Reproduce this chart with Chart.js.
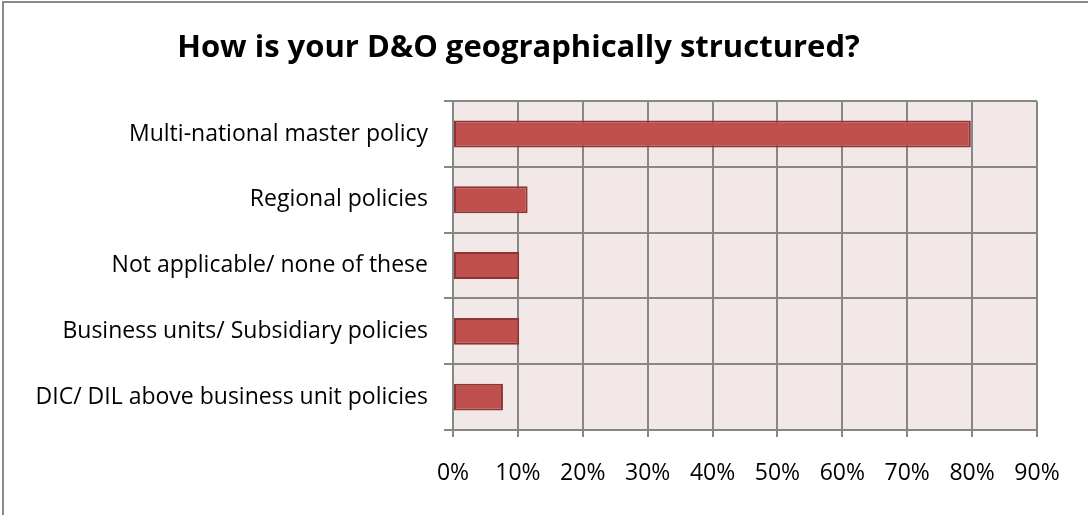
<!DOCTYPE html>
<html>
<head>
<meta charset="utf-8">
<script src="https://cdn.jsdelivr.net/npm/chart.js@4/dist/chart.umd.min.js"></script>
<style>
  html, body { margin: 0; padding: 0; background: #fff; }
  #wrap { position: relative; width: 1088px; height: 515px; }
  #frame { position: absolute; left: 2px; top: 1px; right: 0; bottom: 0;
           border-left: 2px solid #8a8a8a; border-top: 2px solid #8a8a8a; pointer-events: none; }
</style>
</head>
<body>
<div id="wrap">
  <canvas id="chart" width="1088" height="515"></canvas>
  <div id="frame"></div>
</div>
<script>
// Survey answers, share of respondents (%)
const categories = [
  'Multi-national master policy',
  'Regional policies',
  'Not applicable/ none of these',
  'Business units/ Subsidiary policies',
  'DIC/ DIL above business unit policies'
];
const shares = [79.8, 11.5, 10.2, 10.2, 7.7];
const tickValues = [0, 10, 20, 30, 40, 50, 60, 70, 80, 90];
const titleText = 'How is your D&O geographically structured?';

// Fills the plotting area with the pale rose backdrop
const plotBackground = {
  id: 'plotBackground',
  beforeDraw(chart) {
    const { ctx, chartArea: a } = chart;
    ctx.save();
    ctx.fillStyle = '#F2E8E8';
    ctx.fillRect(a.left, a.top, a.right - a.left, a.bottom - a.top);
    ctx.restore();
  }
};

const gridColor = '#878787';
const font = 'Open Sans';

new Chart(document.getElementById('chart'), {
  type: 'bar',
  data: {
    labels: categories,
    datasets: [{
      data: shares,
      backgroundColor: '#C0504D',
      borderColor: '#8C3634',
      borderWidth: 2,
      borderSkipped: false,
      categoryPercentage: 1,
      barPercentage: 0.41
    }]
  },
  options: {
    indexAxis: 'y',
    responsive: false,
    animation: false,
    layout: { padding: { left: 0, right: 51, top: 0, bottom: 0 } },
    plugins: {
      legend: { display: false },
      tooltip: { enabled: false },
      title: {
        display: true,
        text: titleText,
        color: '#000',
        font: { family: font, size: 31, weight: 'bold', lineHeight: 1.2 },
        padding: { top: 30, bottom: 34 }
      }
    },
    scales: {
      x: {
        min: 0,
        max: 90,
        afterBuildTicks(scale) { scale.ticks = tickValues.map(v => ({ value: v })); },
        afterFit(scale) { scale.height = 85; },
        ticks: {
          callback: v => v + '%',
          color: '#000',
          font: { family: font, size: 23 },
          padding: 23,
          maxRotation: 0
        },
        grid: { color: gridColor, lineWidth: 2, tickLength: 7 },
        border: { color: gridColor, width: 2 }
      },
      y: {
        afterFit(scale) { scale.width = 453; },
        ticks: {
          color: '#000',
          font: { family: font, size: 23 },
          padding: 16
        },
        grid: { color: gridColor, lineWidth: 2, tickLength: 9, offset: true },
        border: { color: gridColor, width: 2 }
      }
    }
  },
  plugins: [plotBackground]
});
</script>
</body>
</html>
